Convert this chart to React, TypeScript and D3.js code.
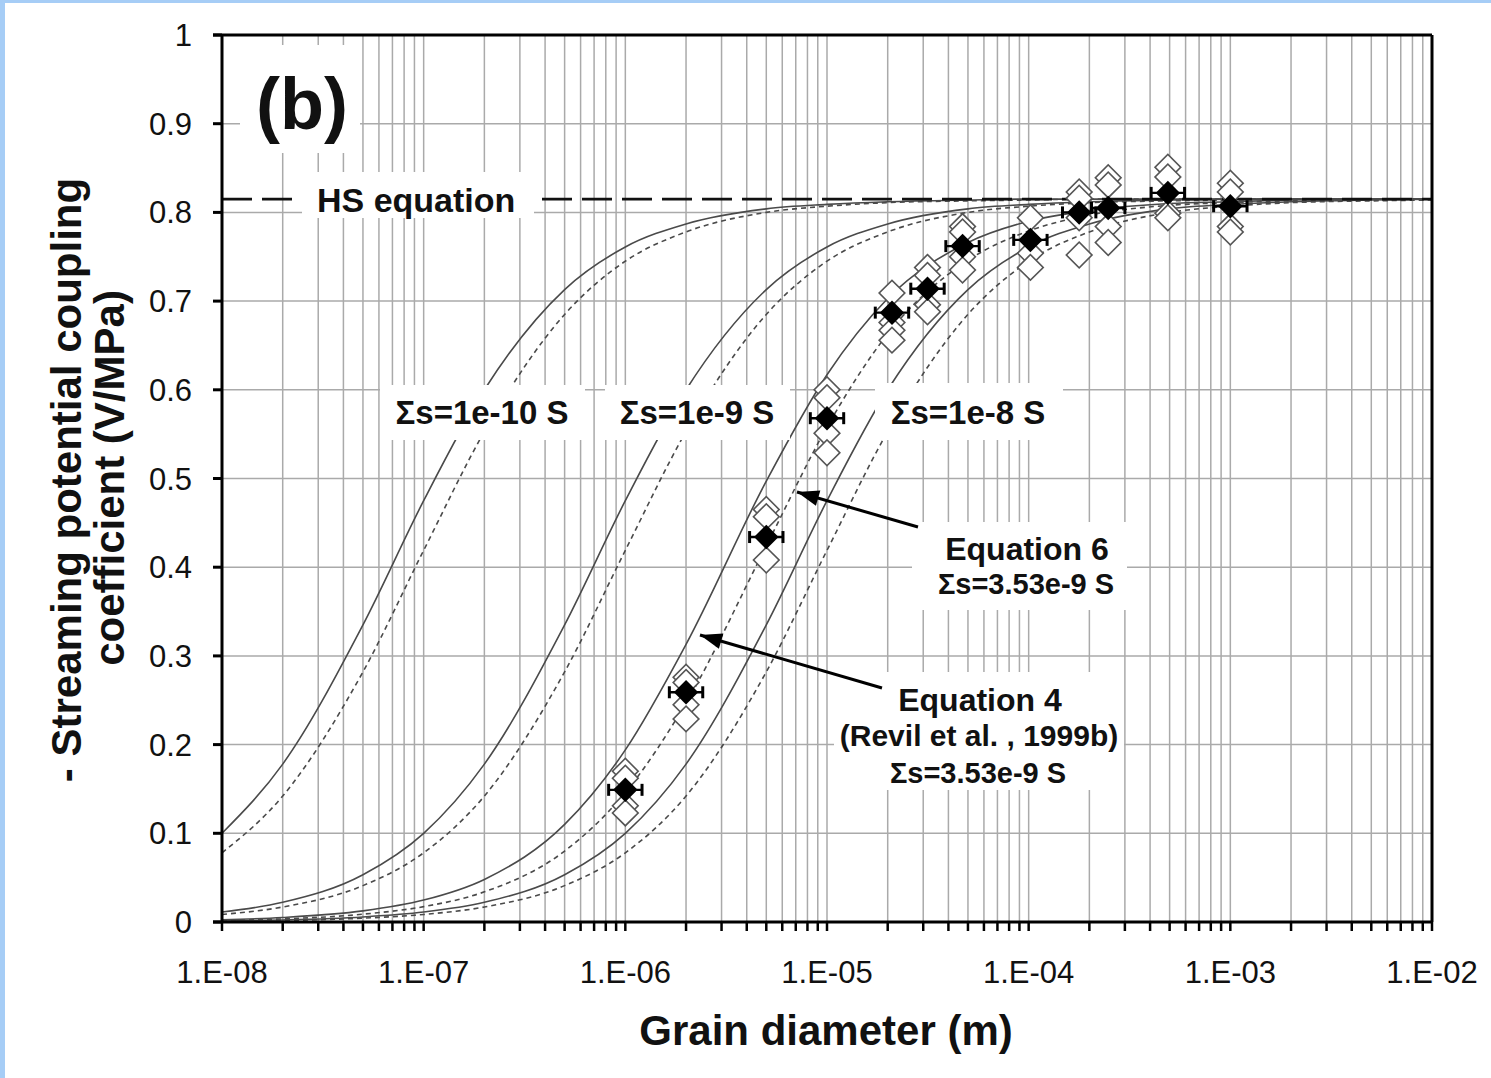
import React from "react";
import * as d3 from "d3";

const W = 1491;
const H = 1078;
const plot = { left: 222, right: 1432, top: 35, bottom: 922 };
const FONT = "'Liberation Sans', Arial, sans-serif";

// grain diameters (m) at which the model curves are read
const curveD = [1e-8, 2e-8, 5e-8, 1e-7, 2e-7, 5e-7, 1e-6, 2e-6, 5e-6, 1e-5, 2e-5, 5e-5, 1e-4, 2e-4, 5e-4, 1e-3, 2e-3, 5e-3, 1e-2];

// Equation 4 (solid) and Equation 6 (dashed) for each surface conductance
const eq4Sigma1e10 = [0.1, 0.178, 0.335, 0.475, 0.6, 0.713, 0.761, 0.787, 0.804, 0.809, 0.812, 0.814, 0.815, 0.815, 0.815, 0.815, 0.815, 0.815, 0.815];
const eq6Sigma1e10 = [0.078, 0.142, 0.282, 0.419, 0.553, 0.685, 0.745, 0.778, 0.8, 0.807, 0.811, 0.813, 0.814, 0.815, 0.815, 0.815, 0.815, 0.815, 0.815];
const eq4Sigma1e9 = [0.0112, 0.0222, 0.0533, 0.1, 0.178, 0.335, 0.475, 0.6, 0.713, 0.761, 0.787, 0.804, 0.809, 0.812, 0.814, 0.815, 0.815, 0.815, 0.815];
const eq6Sigma1e9 = [0.0085, 0.0169, 0.041, 0.078, 0.142, 0.282, 0.419, 0.553, 0.685, 0.745, 0.778, 0.8, 0.807, 0.811, 0.813, 0.814, 0.815, 0.815, 0.815];
const eq4Sigma353 = [0.0025, 0.0051, 0.0125, 0.0247, 0.048, 0.11, 0.194, 0.313, 0.497, 0.617, 0.703, 0.766, 0.79, 0.802, 0.81, 0.812, 0.814, 0.815, 0.815];
const eq6Sigma353 = [0.0018, 0.0035, 0.0088, 0.0173, 0.034, 0.08, 0.146, 0.247, 0.424, 0.558, 0.663, 0.746, 0.779, 0.797, 0.808, 0.811, 0.813, 0.814, 0.815];
const eq4Sigma1e8 = [0.0011, 0.0023, 0.0057, 0.0112, 0.0222, 0.0533, 0.1, 0.178, 0.335, 0.475, 0.6, 0.713, 0.761, 0.787, 0.804, 0.809, 0.812, 0.814, 0.815];
const eq6Sigma1e8 = [0.0009, 0.0017, 0.0043, 0.0085, 0.0169, 0.041, 0.078, 0.142, 0.282, 0.419, 0.553, 0.685, 0.745, 0.778, 0.8, 0.807, 0.811, 0.813, 0.814];

const hsValue = 0.815;

// measured samples
const grainD = [1e-6, 2e-6, 5e-6, 1e-5, 2.1e-5, 3.15e-5, 4.7e-5, 1.02e-4, 1.78e-4, 2.48e-4, 4.9e-4, 1e-3];
const meanC = [0.149, 0.259, 0.434, 0.568, 0.687, 0.714, 0.762, 0.769, 0.8, 0.805, 0.822, 0.807];
const grainErr = [1.21, 1.21, 1.21, 1.21, 1.21, 1.21, 1.21, 1.21, 1.21, 1.21, 1.21, 1.21];
const repeatC = [
  [0.17, 0.162, 0.131, 0.123],
  [0.276, 0.27, 0.245, 0.229],
  [0.465, 0.457, 0.408],
  [0.6, 0.591, 0.551, 0.529],
  [0.709, 0.676, 0.667, 0.656],
  [0.738, 0.729, 0.696, 0.688],
  [0.784, 0.778, 0.75, 0.735],
  [0.794, 0.754, 0.738],
  [0.823, 0.816, 0.794, 0.752],
  [0.839, 0.831, 0.784, 0.766],
  [0.851, 0.84, 0.799, 0.794],
  [0.833, 0.823, 0.784, 0.778],
];

const yTicks = [0, 0.1, 0.2, 0.3, 0.4, 0.5, 0.6, 0.7, 0.8, 0.9, 1];
const yTickLabels = ["0", "0.1", "0.2", "0.3", "0.4", "0.5", "0.6", "0.7", "0.8", "0.9", "1"];
const xDecades = [1e-8, 1e-7, 1e-6, 1e-5, 1e-4, 1e-3, 1e-2];
const xTickLabels = ["1.E-08", "1.E-07", "1.E-06", "1.E-05", "1.E-04", "1.E-03", "1.E-02"];

const curves = [
  { v: eq4Sigma1e10, dash: null },
  { v: eq6Sigma1e10, dash: "5,4" },
  { v: eq4Sigma1e9, dash: null },
  { v: eq6Sigma1e9, dash: "5,4" },
  { v: eq4Sigma353, dash: null },
  { v: eq6Sigma353, dash: "5,4" },
  { v: eq4Sigma1e8, dash: null },
  { v: eq6Sigma1e8, dash: "5,4" },
];

// annotation boxes (white background behind the text)
const notes = [
  { box: [240, 45, 120, 108], lines: [{ t: "(b)", x: 302, y: 129, s: 72 }], anchor: "middle" },
  { box: [302, 172, 232, 46], lines: [{ t: "HS equation", x: 317, y: 212, s: 34 }], anchor: "start" },
  { box: [380, 385, 205, 55], lines: [{ t: "\u03A3s=1e-10 S", x: 482, y: 424, s: 33 }], anchor: "middle" },
  { box: [605, 385, 185, 55], lines: [{ t: "\u03A3s=1e-9 S", x: 697, y: 424, s: 33 }], anchor: "middle" },
  { box: [875, 383, 188, 57], lines: [{ t: "\u03A3s=1e-8 S", x: 968, y: 424, s: 33 }], anchor: "middle" },
  {
    box: [912, 522, 215, 88],
    lines: [
      { t: "Equation 6", x: 1027, y: 560, s: 32 },
      { t: "\u03A3s=3.53e-9 S", x: 1026, y: 594, s: 29 },
    ],
    anchor: "middle",
  },
  {
    box: [834, 672, 290, 118],
    lines: [
      { t: "Equation 4", x: 980, y: 711, s: 32 },
      { t: "(Revil et al. , 1999b)", x: 979, y: 746, s: 30 },
      { t: "\u03A3s=3.53e-9 S", x: 978, y: 783, s: 29 },
    ],
    anchor: "middle",
  },
];

const arrows = [
  { from: [918, 527], to: [797, 492] },
  { from: [882, 688], to: [700, 635] },
];

export default function App() {
  const x = d3.scaleLog().domain([1e-8, 1e-2]).range([plot.left, plot.right]);
  const y = d3.scaleLinear().domain([0, 1]).range([plot.bottom, plot.top]);
  const minor = x.ticks();

  const line = d3
    .line<number>()
    .x((_, i) => x(curveD[i]))
    .y((d) => y(d))
    .curve(d3.curveMonotoneX);

  const openSym = d3.symbol(d3.symbolSquare, 330)();
  const fullSym = d3.symbol(d3.symbolSquare, 300)();

  const arrowHead = (a: { from: number[]; to: number[] }) => {
    const [x1, y1] = a.from;
    const [x2, y2] = a.to;
    const ang = Math.atan2(y2 - y1, x2 - x1);
    const L = 22;
    const w = 8;
    const bx = x2 - L * Math.cos(ang);
    const by = y2 - L * Math.sin(ang);
    const px = -Math.sin(ang) * w;
    const py = Math.cos(ang) * w;
    return `M${x2},${y2}L${bx + px},${by + py}L${bx - px},${by - py}Z`;
  };

  return (
    <svg width={W} height={H} style={{ position: "absolute", left: 0, top: 0 }} fontFamily={FONT}>
      <rect width={W} height={H} fill="#a6cdf6" />
      <rect x={5} y={3} width={W - 5} height={H - 3} fill="#ffffff" />

      {/* grid */}
      <g stroke="#aaaaaa" strokeWidth={1.5}>
        {minor.map((d, i) => (
          <line key={"v" + i} x1={x(d)} x2={x(d)} y1={plot.top} y2={plot.bottom} />
        ))}
        {yTicks.map((d, i) => (
          <line key={"h" + i} x1={plot.left} x2={plot.right} y1={y(d)} y2={y(d)} />
        ))}
      </g>

      {/* model curves */}
      <g fill="none" stroke="#4a4a4a" strokeWidth={1.6}>
        {curves.map((c, i) => (
          <path key={i} d={line(c.v) || ""} strokeDasharray={c.dash || undefined} />
        ))}
      </g>

      {/* HS equation */}
      <line x1={plot.left} x2={plot.right} y1={y(hsValue)} y2={y(hsValue)} stroke="#111" strokeWidth={2.6} strokeDasharray="30,10" />

      {/* repeat measurements */}
      <g fill="#fff" stroke="#555" strokeWidth={1.6}>
        {repeatC.map((vals, i) =>
          vals.map((v, j) => (
            <path key={i + "-" + j} d={openSym} transform={`translate(${x(grainD[i])},${y(v)}) rotate(45)`} />
          ))
        )}
      </g>

      {/* mean values with error bars */}
      <g stroke="#000" strokeWidth={2.4}>
        {grainD.map((d, i) => {
          const x0 = x(d / grainErr[i]);
          const x1 = x(d * grainErr[i]);
          const yy = y(meanC[i]);
          return (
            <g key={i}>
              <line x1={x0} x2={x1} y1={yy} y2={yy} />
              <line x1={x0} x2={x0} y1={yy - 6} y2={yy + 6} strokeWidth={3} />
              <line x1={x1} x2={x1} y1={yy - 6} y2={yy + 6} strokeWidth={3} />
            </g>
          );
        })}
      </g>
      <g fill="#000">
        {grainD.map((d, i) => (
          <path key={i} d={fullSym} transform={`translate(${x(d)},${y(meanC[i])}) rotate(45)`} />
        ))}
      </g>

      {/* annotations */}
      {notes.map((n, i) => (
        <g key={i}>
          <rect x={n.box[0]} y={n.box[1]} width={n.box[2]} height={n.box[3]} fill="#fff" />
          {n.lines.map((l, j) => (
            <text key={j} x={l.x} y={l.y} fontSize={l.s} fontWeight="bold" textAnchor={n.anchor} fill="#111">
              {l.t}
            </text>
          ))}
        </g>
      ))}
      {arrows.map((a, i) => (
        <g key={i}>
          <line x1={a.from[0]} y1={a.from[1]} x2={a.to[0]} y2={a.to[1]} stroke="#000" strokeWidth={3} />
          <path d={arrowHead(a)} fill="#000" />
        </g>
      ))}

      {/* axes and frame */}
      <g stroke="#000" strokeWidth={3} fill="none">
        <line x1={plot.left} x2={plot.left} y1={plot.top} y2={plot.bottom} />
        <line x1={plot.left - 9} x2={plot.right} y1={plot.bottom} y2={plot.bottom} />
        <line x1={plot.left - 9} x2={plot.right} y1={plot.top} y2={plot.top} />
        <line x1={plot.right} x2={plot.right} y1={plot.top} y2={plot.bottom} />
        {yTicks.map((d, i) => (
          <line key={"yt" + i} x1={plot.left - 9} x2={plot.left} y1={y(d)} y2={y(d)} />
        ))}
        {minor.map((d, i) => (
          <line key={"xt" + i} x1={x(d)} x2={x(d)} y1={plot.bottom} y2={plot.bottom + 9} strokeWidth={2.5} />
        ))}
      </g>
      <g fontSize={31} fill="#111">
        {yTicks.map((d, i) => (
          <text key={i} x={192} y={y(d) + 11} textAnchor="end">
            {yTickLabels[i]}
          </text>
        ))}
        {xDecades.map((d, i) => (
          <text key={i} x={x(d)} y={983} textAnchor="middle">
            {xTickLabels[i]}
          </text>
        ))}
      </g>
      <text x={826} y={1045} textAnchor="middle" fontSize={42} fontWeight="bold" fill="#111">
        Grain diameter (m)
      </text>
      <g transform="translate(81,480) rotate(-90)">
        <text x={0} y={0} textAnchor="middle" fontSize={42} fontWeight="bold" fill="#111">
          - Streaming potential coupling
        </text>
      </g>
      <g transform="translate(124,478) rotate(-90)">
        <text x={0} y={0} textAnchor="middle" fontSize={42} fontWeight="bold" fill="#111">
          coefficient (V/MPa)
        </text>
      </g>
    </svg>
  );
}
